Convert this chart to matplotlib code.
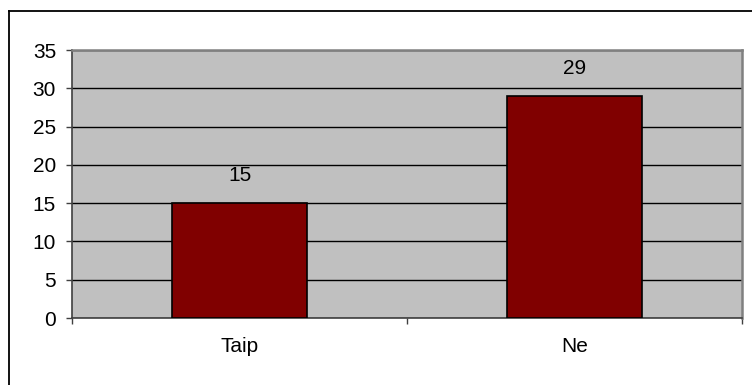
import matplotlib.pyplot as plt
from matplotlib.lines import Line2D

plt.rcParams['font.family'] = ['Liberation Sans', 'DejaVu Sans']

categories = ['Taip', 'Ne']
values = [15, 29]
y_ticks = [0, 5, 10, 15, 20, 25, 30, 35]

fig = plt.figure(figsize=(7.52, 3.85), dpi=100)
ax = fig.add_axes([72 / 752, 1 - 318 / 385, 670 / 752, 268 / 385])
ax.set_facecolor('#C0C0C0')

x = list(range(len(categories)))
ax.bar(x, values, width=0.405, color='#800000', edgecolor='black', linewidth=1.2, zorder=3)

for xi, v in zip(x, values):
    ax.annotate(str(v), (xi, v), xytext=(0, 20), textcoords='offset points',
                ha='center', va='center', fontsize=15)

ax.set_xlim(-0.5, len(categories) - 0.5)
ax.set_ylim(0, 35)
ax.set_yticks(y_ticks)
ax.yaxis.grid(True, color='black', linewidth=1.0, zorder=1)
ax.set_axisbelow(True)

# category labels without ticks, boundary ticks separately
ax.set_xticks(x)
ax.set_xticklabels(categories, fontsize=15)
ax.tick_params(axis='x', length=0, pad=14)
ax.set_xticks([-0.5, 0.5, 1.5], minor=True)
ax.tick_params(axis='x', which='minor', length=4, width=1, color='#404040', direction='out')
ax.tick_params(axis='y', labelsize=15, length=4.5, width=1, color='#404040', pad=7)

for side in ['left', 'bottom']:
    ax.spines[side].set_color('#404040')
    ax.spines[side].set_linewidth(1.2)
for side in ['top', 'right']:
    ax.spines[side].set_color('#808080')
    ax.spines[side].set_linewidth(1.8)

# outer chart border
x0 = 8.5 / 752
y0 = 1 - 10.5 / 385
fig.add_artist(Line2D([x0, x0], [0, y0], color='black', linewidth=1.3))
fig.add_artist(Line2D([x0, 1], [y0, y0], color='black', linewidth=1.3))

fig.savefig('out.png', dpi=100)
